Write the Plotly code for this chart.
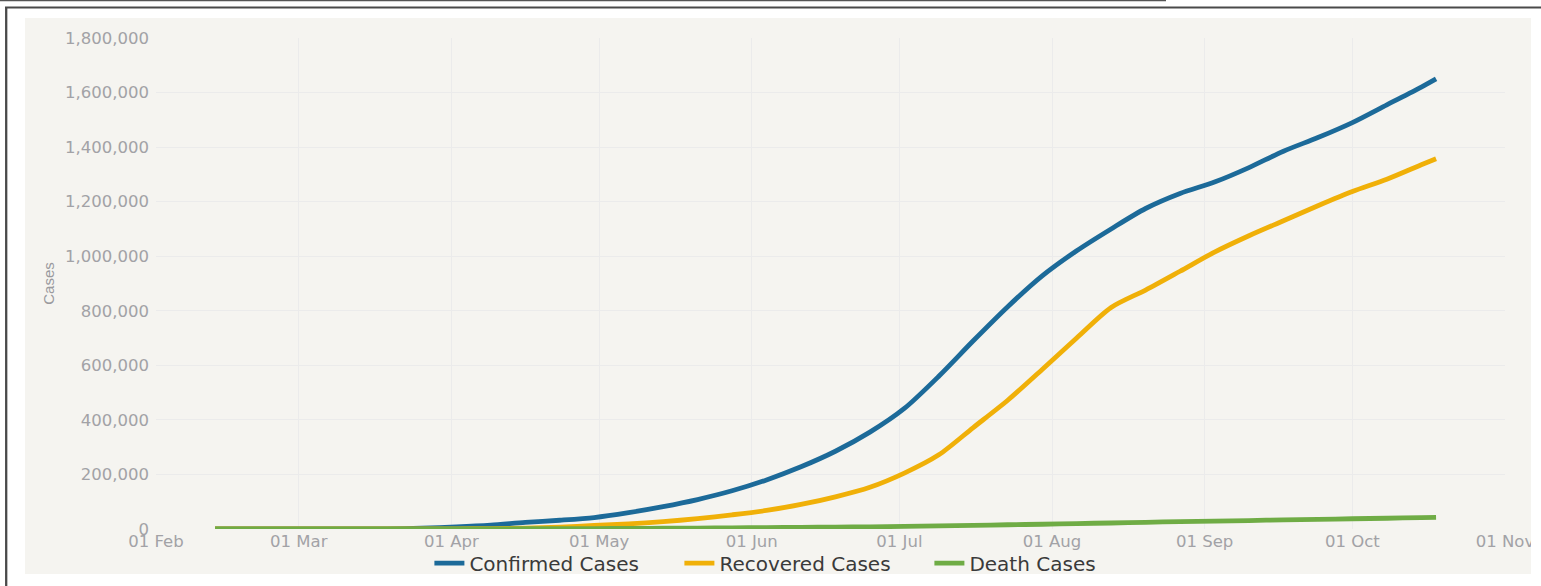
import plotly.graph_objects as go

# ---------------- data ----------------
dates = [
    "2020-02-13", "2020-02-20", "2020-02-27", "2020-03-05", "2020-03-12", "2020-03-19",
    "2020-03-26", "2020-04-02", "2020-04-09", "2020-04-16", "2020-04-23", "2020-04-30",
    "2020-05-07", "2020-05-14", "2020-05-21", "2020-05-28", "2020-06-04", "2020-06-11",
    "2020-06-18", "2020-06-25", "2020-07-02", "2020-07-09", "2020-07-16", "2020-07-23",
    "2020-07-30", "2020-08-06", "2020-08-13", "2020-08-20", "2020-08-27", "2020-09-03",
    "2020-09-10", "2020-09-17", "2020-09-24", "2020-10-01", "2020-10-08", "2020-10-15",
    "2020-10-18",
]
confirmed = [
    0, 0, 0, 100, 300, 800,
    3000, 7500, 14000, 24000, 32000, 42000,
    60000, 82000, 108000, 140000, 180000, 228000,
    285000, 355000, 442000, 560000, 690000, 815000,
    928000, 1020000, 1100000, 1175000, 1230000, 1272000,
    1325000, 1385000, 1435000, 1490000, 1555000, 1620000,
    1650000,
]
recovered = [
    0, 0, 0, 0, 0, 50,
    200, 600, 1500, 3500, 7000, 13000,
    19000, 27000, 38000, 52000, 68000, 90000,
    118000, 153000, 205000, 272000, 372000, 472000,
    585000, 700000, 812000, 876000, 945000, 1015000,
    1075000, 1130000, 1185000, 1237000, 1282000, 1335000,
    1357000,
]
deaths = [
    0, 0, 0, 0, 10, 30,
    100, 300, 500, 900, 1200, 1700,
    2200, 2800, 3400, 4200, 5000, 6000,
    7000, 8000, 9500, 11500, 13500, 15500,
    17500, 20000, 22000, 24500, 27000, 29000,
    31000, 33500, 35500, 37500, 39500, 41500,
    42500,
]
series_names = ["Confirmed Cases", "Recovered Cases", "Death Cases"]
series_colors = ["#1c6a99", "#f0b008", "#6fac45"]

y_ticks = [0, 200000, 400000, 600000, 800000, 1000000, 1200000, 1400000, 1600000, 1800000]
x_ticks = ["2020-02-01", "2020-03-01", "2020-04-01", "2020-05-01", "2020-06-01",
           "2020-07-01", "2020-08-01", "2020-09-01", "2020-10-01", "2020-11-01"]
x_ticktext = ["01 Feb", "01 Mar", "01 Apr", "01 May", "01 Jun",
              "01 Jul", "01 Aug", "01 Sep", "01 Oct", "01 Nov"]

# ---------------- layout geometry ----------------
W, H = 1541, 586
ML, MR, MT, MB = 156, 36, 38, 57
PW = W - ML - MR
PH = H - MT - MB


def px(x):
    return (x - ML) / PW


def py(y):
    return (H - MB - y) / PH


fig = go.Figure()
for name, vals, col in zip(series_names, [confirmed, recovered, deaths], series_colors):
    fig.add_trace(go.Scatter(
        x=dates, y=vals, name=name, mode="lines",
        line=dict(color=col, width=4.8, shape="spline", smoothing=0.8),
    ))

tick_font = dict(family="DejaVu Sans", size=16.5, color="#a2a2a6")

fig.update_layout(
    width=W, height=H,
    margin=dict(l=ML, r=MR, t=MT, b=MB, pad=0, autoexpand=False),
    paper_bgcolor="white",
    plot_bgcolor="#f5f4f0",
    showlegend=True,
    legend=dict(
        orientation="h", xref="container", yref="container",
        x=0.522, xanchor="center", y=0.039, yanchor="middle",
        font=dict(family="DejaVu Sans", size=20, color="#3a3a3a"),
        bgcolor="rgba(0,0,0,0)", itemwidth=30, tracegroupgap=0,
        entrywidth=205, entrywidthmode="pixels",
    ),
    xaxis=dict(
        type="date", range=["2020-02-01", "2020-11-01"],
        tickvals=x_ticks, ticktext=x_ticktext, tickfont=tick_font,
        showgrid=True, gridcolor="#ebebeb", gridwidth=1,
        zeroline=False, showline=False, ticks="", ticklen=0,
    ),
    yaxis=dict(
        range=[0, 1800000], tickvals=y_ticks, tickformat=",",
        tickfont=tick_font, ticklabelstandoff=6,
        title=dict(text="Cases", font=dict(family="Liberation Sans Narrow, Liberation Sans", size=15, color="#9a9a9e"), standoff=6),
        showgrid=True, gridcolor="#ebebeb", gridwidth=1,
        zeroline=False, showline=False, ticks="", ticklen=0,
    ),
    shapes=[
        # panel background
        dict(type="rect", xref="paper", yref="paper", layer="below",
             x0=px(25), x1=px(1531), y0=py(574), y1=py(18),
             fillcolor="#f5f4f0", line=dict(width=0)),
        # white strip at right (clips last tick label)
        dict(type="rect", xref="paper", yref="paper", layer="above",
             x0=px(1531), x1=px(1560), y0=py(600), y1=py(10),
             fillcolor="white", line=dict(width=0)),
        # top thin black line
        dict(type="line", xref="paper", yref="paper", layer="above",
             x0=px(0), x1=px(1166), y0=py(0.5), y1=py(0.5),
             line=dict(color="#555555", width=1.5)),
        # frame top line
        dict(type="line", xref="paper", yref="paper", layer="above",
             x0=px(5), x1=px(1545), y0=py(7.5), y1=py(7.5),
             line=dict(color="#4a4a4a", width=2)),
        # frame left line
        dict(type="line", xref="paper", yref="paper", layer="above",
             x0=px(6.2), x1=px(6.2), y0=py(7), y1=py(600),
             line=dict(color="#4a4a4a", width=2.3)),
    ],
)

fig.write_html(
    "out.html",
    config={"displayModeBar": False},
    post_script="document.body.style.margin='0';document.body.style.overflow='hidden';",
)
